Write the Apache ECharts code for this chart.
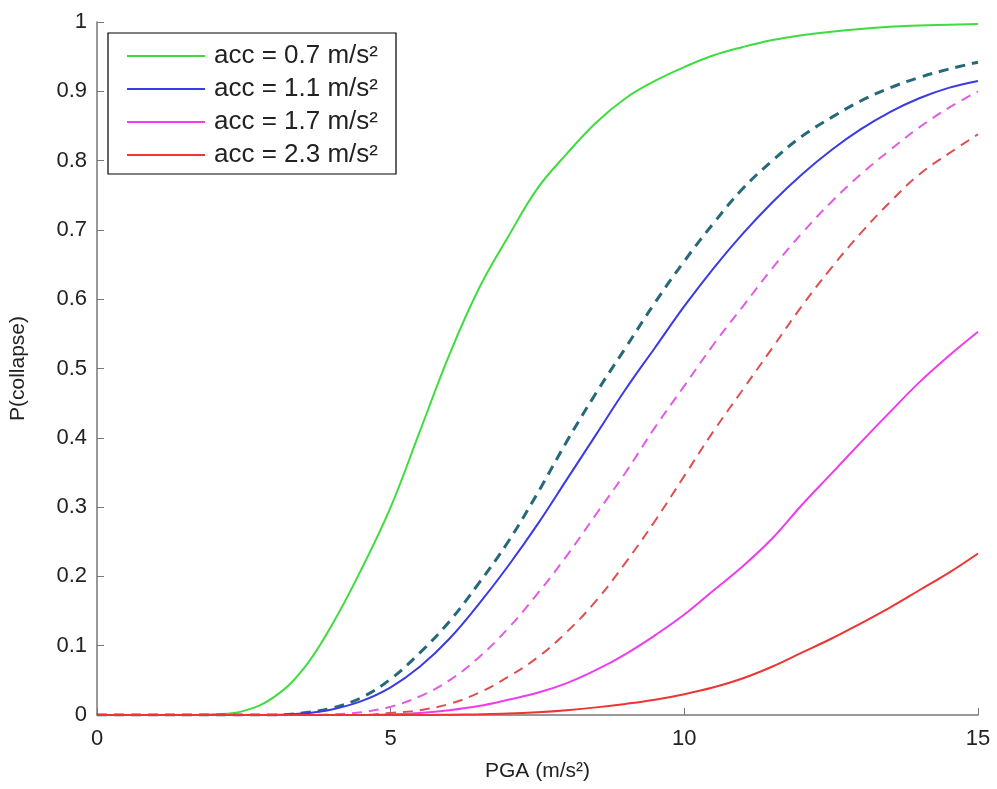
<!DOCTYPE html>
<html>
<head>
<meta charset="utf-8">
<script src="https://cdn.jsdelivr.net/npm/echarts@6/dist/echarts.min.js"></script>
<style>
html,body{margin:0;padding:0;background:#fff;}
#chart{width:997px;height:789px;}
</style>
</head>
<body>
<div id="chart"></div>
<script>
const pga = [0,0.5,1,1.5,2,2.5,3,3.5,4,4.5,5,5.5,6,6.5,7,7.5,8,8.5,9,9.5,10,10.5,11,11.5,12,12.5,13,13.5,14,14.5,15];
const xTicks = [0,5,10,15];
const yTicks = [0,0.1,0.2,0.3,0.4,0.5,0.6,0.7,0.8,0.9,1];
const legendNames = ['acc = 0.7 m/s²','acc = 1.1 m/s²','acc = 1.7 m/s²','acc = 2.3 m/s²'];

const green = [0,0,0,0,0.001,0.006,0.025,0.065,0.13,0.21,0.30,0.41,0.52,0.615,0.69,0.76,0.81,0.855,0.89,0.915,0.935,0.952,0.964,0.974,0.981,0.986,0.99,0.993,0.995,0.996,0.997];
const blue = [0,0,0,0,0,0,0,0.002,0.008,0.02,0.04,0.07,0.11,0.16,0.215,0.275,0.34,0.405,0.47,0.53,0.59,0.645,0.695,0.74,0.78,0.815,0.845,0.87,0.89,0.905,0.915];
const blueDashed = [0,0,0,0,0,0,0,0.003,0.01,0.025,0.052,0.09,0.135,0.19,0.25,0.32,0.395,0.465,0.53,0.595,0.655,0.71,0.76,0.80,0.835,0.862,0.886,0.905,0.92,0.932,0.942];
const magenta = [0,0,0,0,0,0,0,0,0,0,0.001,0.003,0.007,0.013,0.022,0.032,0.046,0.065,0.088,0.115,0.145,0.18,0.215,0.255,0.303,0.348,0.393,0.437,0.48,0.518,0.553];
const magentaDashed = [0,0,0,0,0,0,0,0,0.001,0.004,0.012,0.027,0.05,0.083,0.125,0.175,0.23,0.29,0.35,0.415,0.475,0.535,0.59,0.645,0.695,0.74,0.78,0.815,0.848,0.876,0.90];
const red = [0,0,0,0,0,0,0,0,0,0,0,0,0.0005,0.001,0.002,0.004,0.007,0.011,0.016,0.022,0.03,0.04,0.053,0.07,0.09,0.11,0.132,0.155,0.18,0.205,0.233];
const redDashed = [0,0,0,0,0,0,0,0,0,0,0.003,0.007,0.016,0.032,0.055,0.083,0.12,0.165,0.22,0.28,0.345,0.41,0.47,0.53,0.59,0.645,0.695,0.74,0.78,0.81,0.838];

function pairs(arr){ return pga.map((x,i)=>[x,arr[i]]); }
const FONT = "'Liberation Sans', Arial, Helvetica, sans-serif";

function line(name, arr, color, width, dashed){
  return {
    name: name, type: 'line', data: pairs(arr), symbol: 'none', showSymbol: false,
    smooth: 0.4, animation: false,
    lineStyle: { color: color, width: width, type: dashed ? [10, 7] : 'solid' },
    itemStyle: { color: color }
  };
}

const chart = echarts.init(document.getElementById('chart'), null, {renderer:'canvas'});
chart.setOption({
  backgroundColor: '#ffffff',
  animation: false,
  grid: { left: 97, right: 19, top: 22, bottom: 74, containLabel: false },
  legend: {
    data: legendNames,
    orient: 'vertical',
    left: 108, top: 33,
    icon: 'rect',
    backgroundColor: '#fff',
    borderColor: '#000', borderWidth: 1.2,
    padding: [10, 18, 6, 19],
    itemWidth: 78, itemHeight: 2, itemGap: 7,
    textStyle: { fontFamily: FONT, fontSize: 26, color: '#222', padding: [0, 0, 0, 4], lineHeight: 26 }
  },
  xAxis: {
    type: 'value', min: 0, max: 15, interval: 5,
    name: 'PGA (m/s²)', nameLocation: 'middle', nameGap: 46,
    nameTextStyle: { fontFamily: FONT, fontSize: 21, color: '#222' },
    axisLine: { show: true, lineStyle: { color: '#777', width: 1.5 } },
    axisTick: { show: true, inside: true, length: 7, lineStyle: { color: '#777' } },
    axisLabel: { fontFamily: FONT, fontSize: 22, color: '#222', margin: 13 },
    splitLine: { show: false }
  },
  yAxis: {
    type: 'value', min: 0, max: 1, interval: 0.1,
    name: 'P(collapse)', nameLocation: 'middle', nameGap: 68, nameRotate: 90,
    nameTextStyle: { fontFamily: FONT, fontSize: 21, color: '#222' },
    axisLine: { show: true, lineStyle: { color: '#777', width: 1.5 } },
    axisTick: { show: true, inside: true, length: 7, lineStyle: { color: '#777' } },
    axisLabel: { fontFamily: FONT, fontSize: 22, color: '#222', margin: 10,
      formatter: function(v){ return String(Math.round(v*10)/10); } },
    splitLine: { show: false }
  },
  series: [
    line(legendNames[0], green, '#3fdc3f', 2, false),
    line('acc = 1.1 m/s² dashed', blueDashed, '#25697a', 3, true),
    line(legendNames[1], blue, '#3a3ae6', 2, false),
    line('acc = 1.7 m/s² dashed', magentaDashed, '#e25ce2', 2, true),
    line(legendNames[2], magenta, '#ee3cee', 2, false),
    line('acc = 2.3 m/s² dashed', redDashed, '#dc5050', 2, true),
    line(legendNames[3], red, '#ee3434', 2, false)
  ]
});
</script>
</body>
</html>
